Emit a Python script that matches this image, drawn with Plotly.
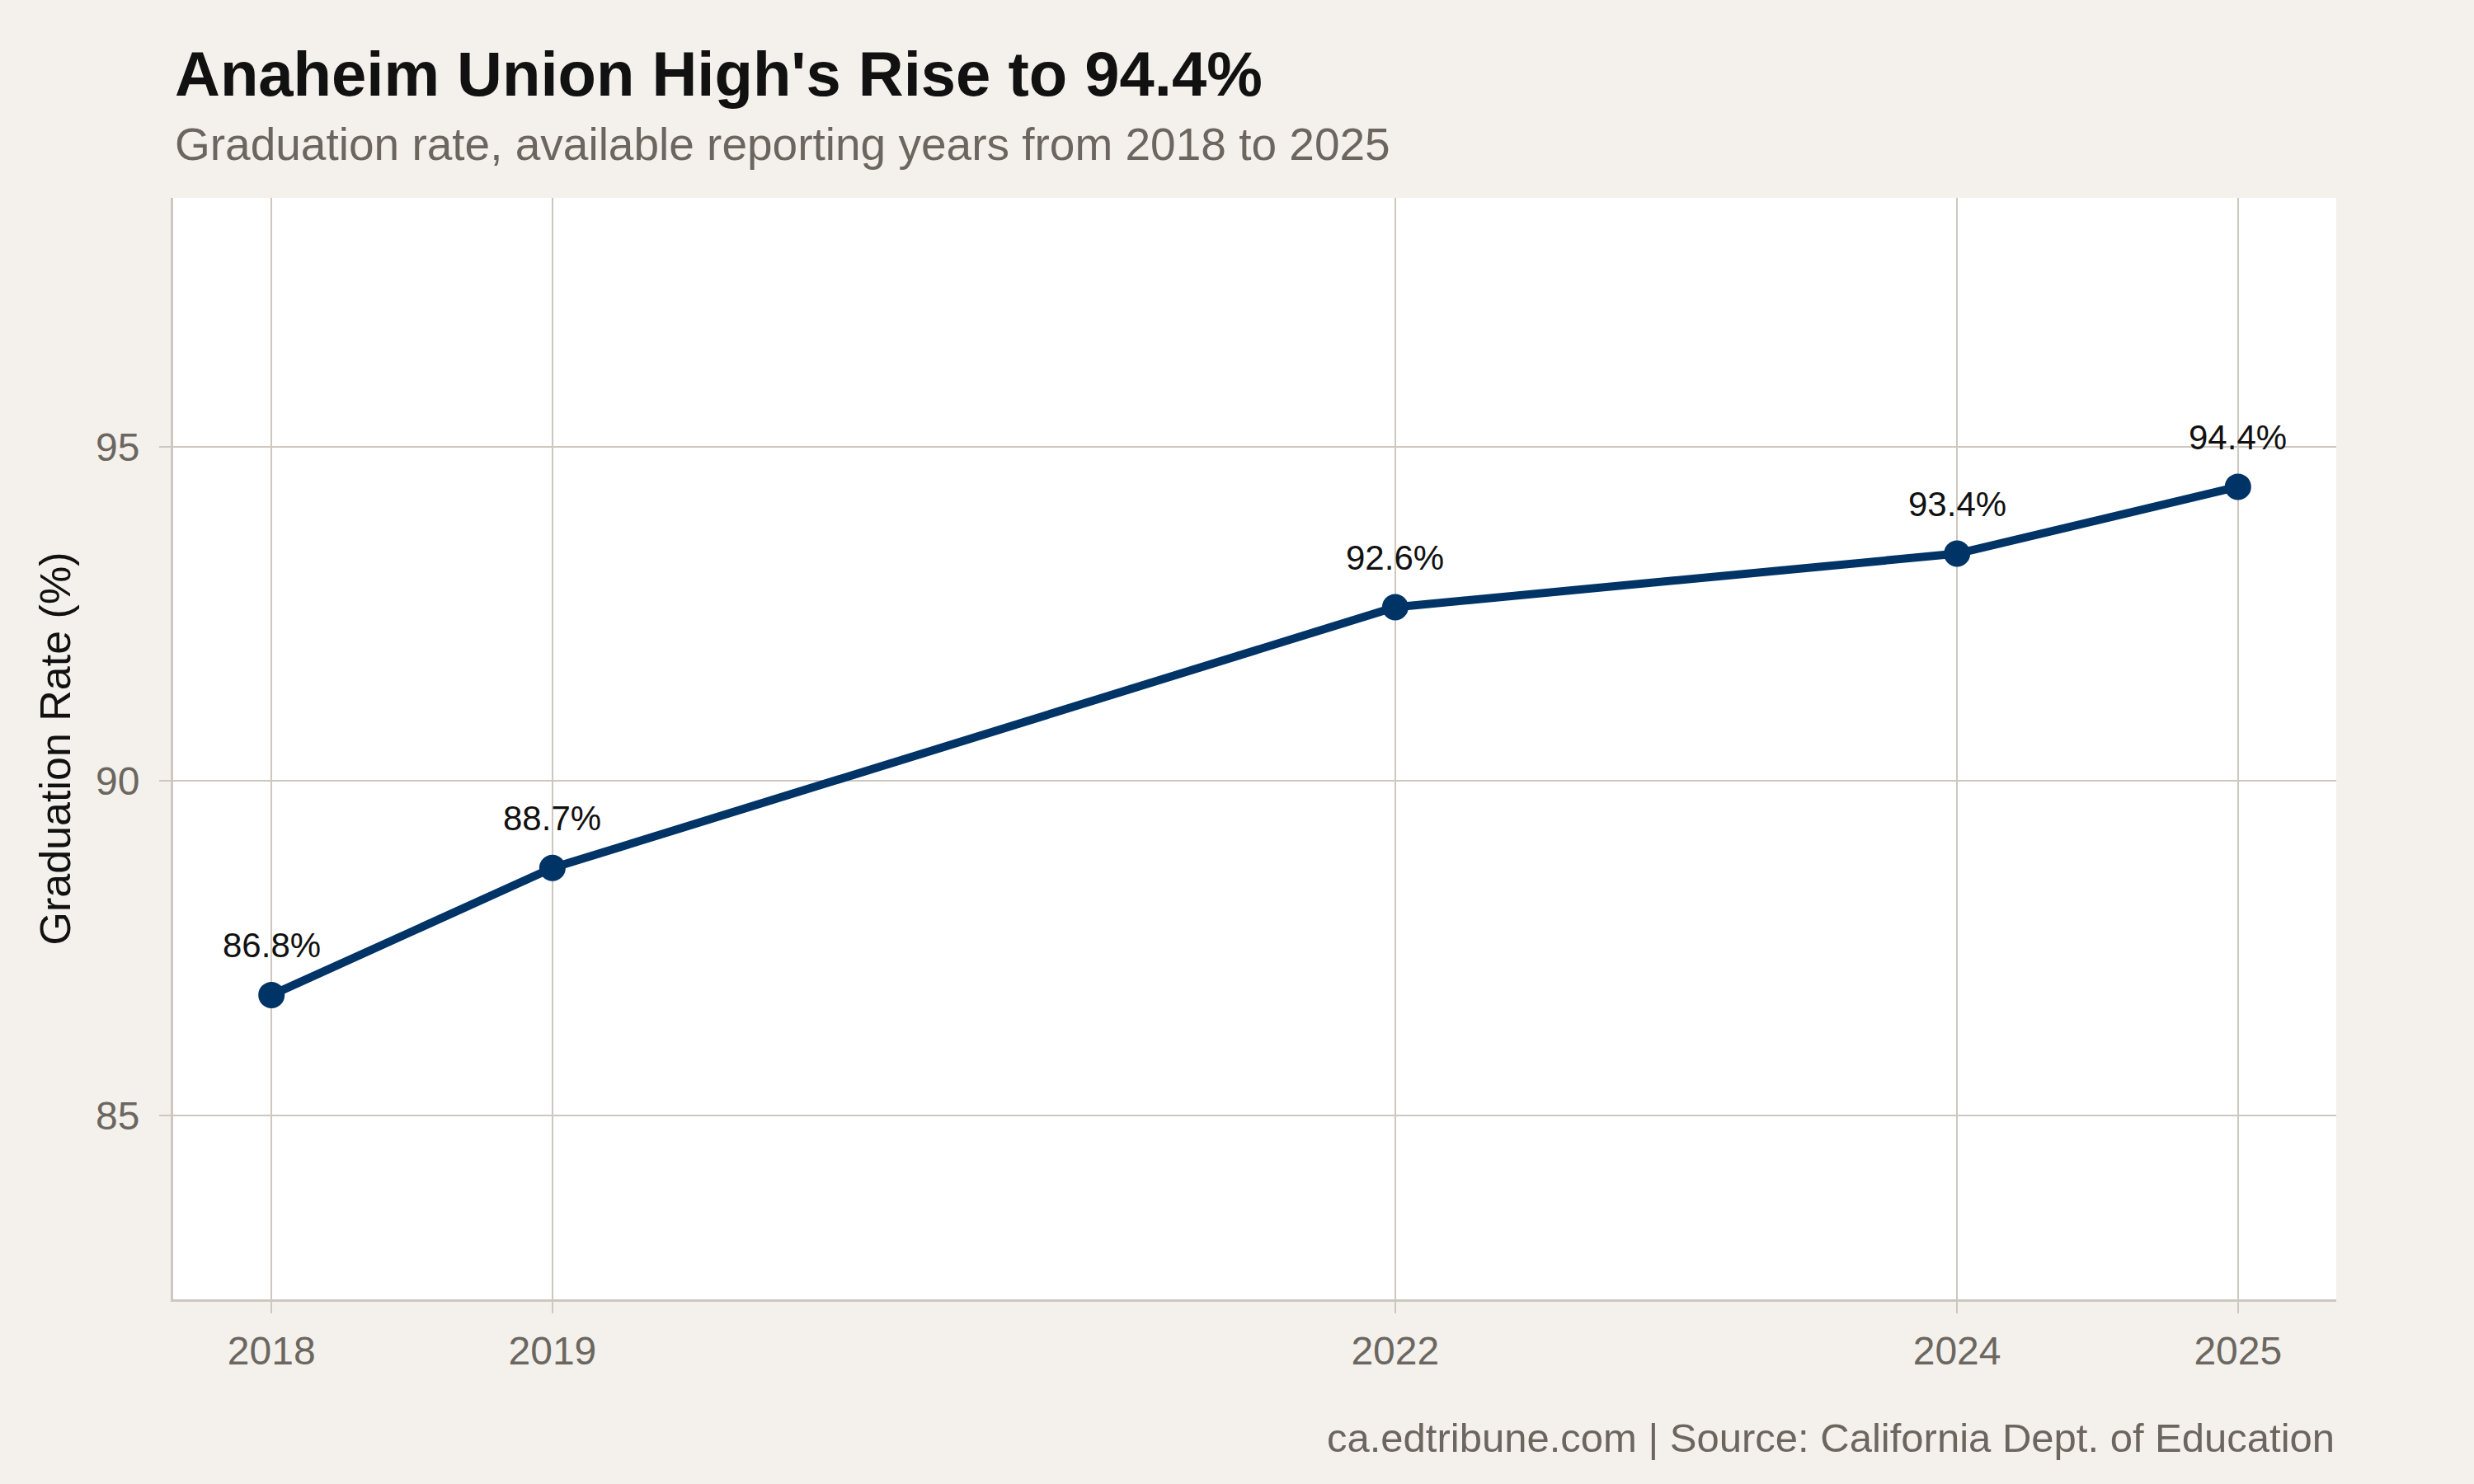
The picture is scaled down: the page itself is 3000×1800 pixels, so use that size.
import plotly.graph_objects as go

years = [2018, 2019, 2022, 2024, 2025]
rates = [86.8, 88.7, 92.6, 93.4, 94.4]
year_ticks = [2018, 2019, 2022, 2024, 2025]
y_ticks = [85, 90, 95]

title = "Anaheim Union High's Rise to 94.4%"
subtitle = "Graduation rate, available reporting years from 2018 to 2025"
caption = "ca.edtribune.com | Source: California Dept. of Education"

FONT = "Liberation Sans, Arial, Helvetica, sans-serif"
BG = "#f4f1ec"
GRID = "#cdc7bf"
GRAY = "#6b6760"
NAVY = "#003366"

fig = go.Figure()
fig.add_trace(go.Scatter(
    x=years, y=rates, mode="lines+markers",
    line=dict(color=NAVY, width=10),
    marker=dict(color=NAVY, size=32),
    hoverinfo="skip", showlegend=False,
))

for x, y in zip(years, rates):
    fig.add_annotation(x=x, y=y, text=f"{y:.1f}%", showarrow=False,
                       yshift=60, yanchor="middle", xanchor="center",
                       font=dict(family=FONT, size=42, color="#111111"))

fig.add_annotation(xref="paper", yref="paper", x=0, y=1.113, xanchor="left", yanchor="middle",
                   text=f"<b>{title}</b>", showarrow=False,
                   font=dict(family=FONT, size=76, color="#111111"))
fig.add_annotation(xref="paper", yref="paper", x=0, y=1.049, xanchor="left", yanchor="middle",
                   text=subtitle, showarrow=False,
                   font=dict(family=FONT, size=55, color=GRAY))
fig.add_annotation(xref="paper", yref="paper", x=1, y=-0.1257, xanchor="right", yanchor="middle",
                   text=caption, showarrow=False,
                   font=dict(family=FONT, size=49, color=GRAY))

fig.update_layout(
    width=3000, height=1800,
    paper_bgcolor=BG, plot_bgcolor="#ffffff",
    margin=dict(l=210, r=167, t=240, b=224),
    font=dict(family=FONT),
)
fig.update_xaxes(
    range=[2017.65, 2025.35], tickmode="array", tickvals=year_ticks,
    ticktext=[str(v) for v in year_ticks],
    showgrid=True, gridcolor=GRID, gridwidth=2,
    showline=True, linecolor=GRID, linewidth=3,
    ticks="outside", ticklen=14, tickwidth=2, tickcolor=GRID,
    ticklabelstandoff=4,
    tickfont=dict(family=FONT, size=48, color=GRAY), zeroline=False,
)
fig.update_yaxes(
    range=[82.25, 98.72], tickmode="array", tickvals=y_ticks,
    showgrid=True, gridcolor=GRID, gridwidth=2,
    showline=True, linecolor=GRID, linewidth=3,
    ticks="outside", ticklen=14, tickwidth=2, tickcolor=GRID,
    ticklabelstandoff=14,
    tickfont=dict(family=FONT, size=48, color=GRAY), zeroline=False,
    title=dict(text="Graduation Rate (%)", standoff=14,
               font=dict(family=FONT, size=52, color="#111111")),
)

fig.write_html("out.html")
